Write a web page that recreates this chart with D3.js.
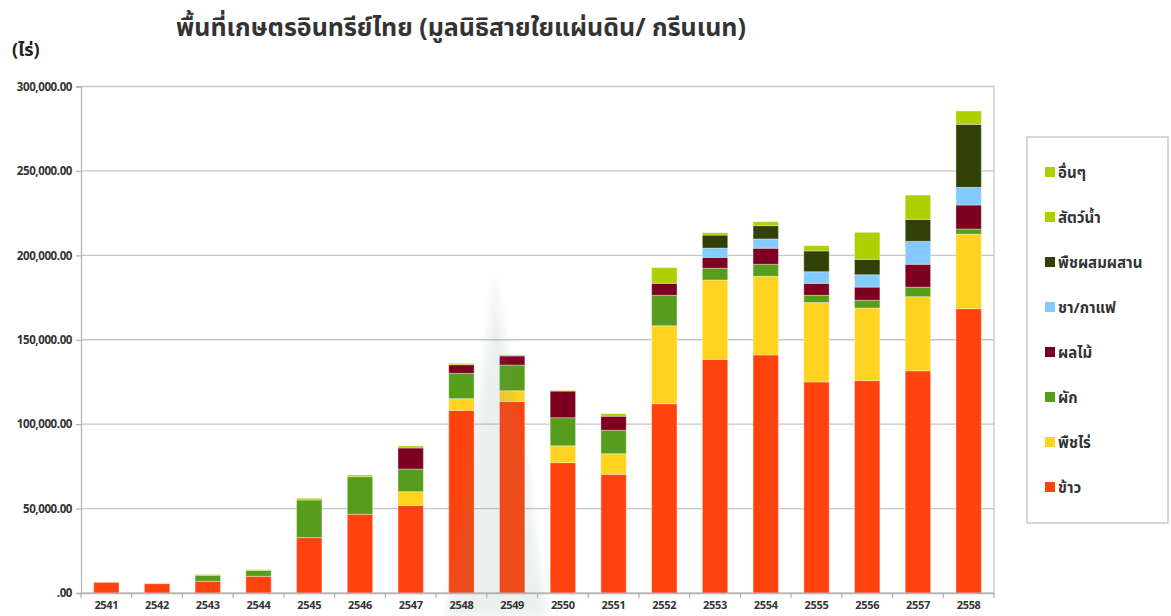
<!DOCTYPE html>
<html>
<head>
<meta charset="utf-8">
<script src="https://cdn.jsdelivr.net/npm/d3@7"></script>
<style>
  html, body { margin: 0; padding: 0; background: #fff; }
  svg { display: block; }
  .thai { font-family: "Noto Sans Thai", "Noto Sans Thai UI", "Tahoma", "Loma", "Garuda", sans-serif; }
  .num { font-family: "Open Sans", "Liberation Sans", sans-serif; }
</style>
</head>
<body>
<svg id="chart" width="1171" height="616"></svg>
<script>
const years = ["2541","2542","2543","2544","2545","2546","2547","2548","2549","2550","2551","2552","2553","2554","2555","2556","2557","2558"];
const seriesNames = ["ข้าว","พืชไร่","ผัก","ผลไม้","ชา/กาแฟ","พืชผสมผสาน","สัตว์น้ำ","อื่นๆ"];
const seriesColors = ["#ff420e","#ffd320","#579d1c","#7e0021","#83caff","#314004","#aecf00","#aecf00"];

const rice       = [6300,5500,6900,9900,32800,46600,51900,108200,113500,77200,70300,112100,138400,141000,125000,125800,131600,168400];
const fieldCrops = [0,0,0,0,0,0,8100,6900,6300,10000,12200,46200,47000,46600,47000,43000,43900,44100];
const vegetables = [0,0,3600,3500,22300,22300,13400,15000,15200,16600,13900,18000,6900,7100,4300,4600,5600,3100];
const fruits     = [0,0,0,0,0,0,12500,5100,5400,15800,8300,7100,6500,9500,7100,7800,13600,14200];
const teaCoffee  = [0,0,0,0,0,0,0,0,0,0,0,0,5500,5500,6900,7300,13600,10500];
const mixedFarm  = [0,0,0,0,0,0,0,0,0,0,0,0,7700,7900,12300,9100,13000,37300];
const aquatic    = [0,0,0,0,0,0,0,0,0,0,0,0,0,0,0,0,0,0];
const others     = [0,0,500,400,1000,1000,1200,800,600,400,1500,9300,1400,2300,3100,16000,14400,7900];

const seriesValues = [rice, fieldCrops, vegetables, fruits, teaCoffee, mixedFarm, aquatic, others];
const yTicks = [0,50000,100000,150000,200000,250000,300000];

const titleText = "พื้นที่เกษตรอินทรีย์ไทย (มูลนิธิสายใยแผ่นดิน/ กรีนเนท)";
const unitText = "(ไร่)";

const svg = d3.select("#chart");
const pLeft = 81, pRight = 994, pTop = 86.5, pBottom = 593;

const x = d3.scaleBand().domain(years).range([pLeft, pRight]).paddingInner(0.5).paddingOuter(0.25);
const y = d3.scaleLinear().domain([0, 300000]).range([pBottom, pTop]);

const table = years.map((yr, i) => {
  const row = { year: yr };
  seriesNames.forEach((s, j) => row[s] = seriesValues[j][i]);
  return row;
});
const stacked = d3.stack().keys(seriesNames)(table);

const defs = svg.append("defs");
defs.append("filter").attr("id", "soft").attr("x", "-50%").attr("y", "-20%").attr("width", "200%").attr("height", "140%")
  .append("feGaussianBlur").attr("stdDeviation", 4);

// gridlines
svg.append("g")
  .selectAll("line").data(yTicks).join("line")
  .attr("x1", pLeft).attr("x2", pRight)
  .attr("y1", d => y(d)).attr("y2", d => y(d))
  .attr("stroke", "#c6c6c6").attr("stroke-width", 1.3);

svg.append("line").attr("x1", pRight).attr("x2", pRight).attr("y1", pTop).attr("y2", pBottom)
  .attr("stroke", "#c6c6c6").attr("stroke-width", 1.3);

// bars
const gBars = svg.append("g");
stacked.forEach((layer, j) => {
  gBars.append("g").attr("fill", seriesColors[j])
    .selectAll("rect").data(layer).join("rect")
    .attr("x", d => x(d.data.year))
    .attr("width", x.bandwidth())
    .attr("y", d => y(d[1]))
    .attr("height", d => Math.max(0, y(d[0]) - y(d[1])))
    .attr("stroke", "rgba(255,255,255,0.35)")
    .attr("stroke-width", d => (d[1] - d[0]) > 0 ? 1 : 0);
});

// faint watermark
svg.append("path")
  .attr("d", "M495,268 C490,340 475,420 468,470 C462,520 452,580 446,616 L548,616 C540,580 532,520 528,470 C520,420 502,340 495,268 Z")
  .attr("fill", "#6f9480").attr("opacity", 0.13).attr("filter", "url(#soft)");

// y axis
const yAxis = d3.axisLeft(y).tickValues(yTicks).tickSize(5).tickPadding(4)
  .tickFormat(d => d3.format(",.2f")(d).replace(/^0\./, "."));
const gy = svg.append("g").attr("transform", `translate(${pLeft},0)`).call(yAxis);
gy.select(".domain").attr("stroke", "#b4b4b4").attr("stroke-width", 1.3);
gy.selectAll(".tick line").attr("stroke", "#b4b4b4").attr("stroke-width", 1.3);
gy.selectAll(".tick text").attr("class", "num").attr("font-size", "11.5px")
  .attr("font-weight", "bold").attr("fill", "#333").attr("letter-spacing", "-0.4px");

// x axis
const xAxis = d3.axisBottom(x).tickSize(0).tickPadding(8);
const gx = svg.append("g").attr("transform", `translate(0,${pBottom})`).call(xAxis);
gx.select(".domain").attr("stroke", "#b4b4b4").attr("stroke-width", 1.3);
gx.selectAll(".tick text").attr("class", "num").attr("font-size", "11px")
  .attr("font-weight", "bold").attr("fill", "#333").attr("letter-spacing", "-0.3px");
const bounds = years.map(yr => x(yr) - x.step() * x.paddingInner() / 2).concat([pRight]);
gx.append("g").selectAll("line").data(bounds).join("line")
  .attr("x1", d => d).attr("x2", d => d).attr("y1", 0).attr("y2", 5)
  .attr("stroke", "#b4b4b4").attr("stroke-width", 1.3);

// title
svg.append("text").attr("class", "thai")
  .attr("x", 461).attr("y", 36).attr("text-anchor", "middle")
  .attr("font-size", "25px").attr("font-weight", "bold").attr("fill", "#333")
  .text(titleText);

svg.append("text").attr("class", "thai")
  .attr("x", 12).attr("y", 56)
  .attr("font-size", "18px").attr("font-weight", "bold").attr("fill", "#222")
  .text(unitText);

// legend
const lg = svg.append("g");
lg.append("rect").attr("x", 1027).attr("y", 137).attr("width", 141).attr("height", 386)
  .attr("fill", "#fff").attr("stroke", "#c4c4c4").attr("stroke-width", 1.3);
const legendOrder = seriesNames.map((s, j) => ({ name: s, color: seriesColors[j] })).reverse();
const ly = d3.scalePoint().domain(legendOrder.map(d => d.name)).range([172, 487]);
const items = lg.selectAll("g.item").data(legendOrder).join("g").attr("class", "item")
  .attr("transform", d => `translate(1045,${ly(d.name)})`);
items.append("rect").attr("x", 0).attr("y", -5).attr("width", 10).attr("height", 10)
  .attr("fill", d => d.color);
items.append("text").attr("class", "thai").attr("x", 13).attr("y", 6)
  .attr("font-size", "15px").attr("font-weight", "bold").attr("fill", "#333")
  .text(d => d.name);
</script>
</body>
</html>
